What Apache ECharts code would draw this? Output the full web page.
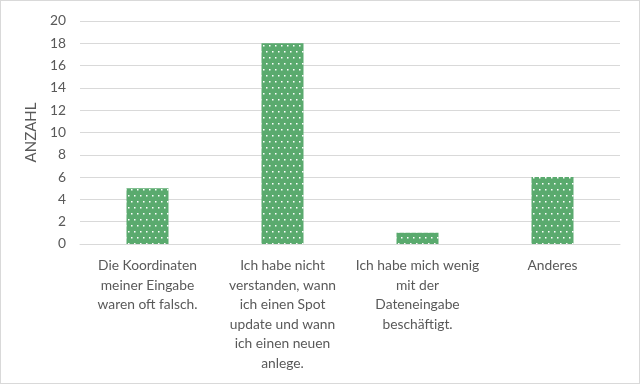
<!DOCTYPE html>
<html><head><meta charset="utf-8">
<script src="https://cdn.jsdelivr.net/npm/echarts@6/dist/echarts.min.js"></script>
<style>html,body{margin:0;padding:0;background:#fff}#c{width:640px;height:384px;box-sizing:border-box;border:1px solid #d9d9d9}</style>
</head><body><div id="c"></div>
<script>
var categories = [
  "Die Koordinaten\nmeiner Eingabe\nwaren oft falsch.",
  "Ich habe nicht\nverstanden, wann\nich einen Spot\nupdate und wann\nich einen neuen\nanlege.",
  "Ich habe mich wenig\nmit der\nDateneingabe\nbeschäftigt.",
  "Anderes"
];
var values = [5, 18, 1, 6];
var yLabel = "ANZAHL";

function makePattern() {
  var c = document.createElement('canvas');
  c.width = 6; c.height = 12;
  var ctx = c.getContext('2d');
  ctx.fillStyle = '#5aaa6e';
  ctx.fillRect(0, 0, 6, 12);
  ctx.fillStyle = '#ffffff';
  ctx.fillRect(1, 2, 1.5, 1.5);
  ctx.fillRect(4, 8, 1.5, 1.5);
  return c;
}

var chart = echarts.init(document.getElementById('c'));
var font = 'Lato, "Noto Sans", sans-serif';
chart.setOption({
  animation: false,
  grid: { left: 79, right: 19, top: 20, bottom: 139, containLabel: false },
  xAxis: {
    type: 'category',
    data: categories,
    axisLine: { show: true, lineStyle: { color: '#d9d9d9', width: 1 } },
    axisTick: { show: false },
    axisLabel: { interval: 0, color: '#595959', fontFamily: font, fontSize: 13.8, lineHeight: 19.5, margin: 12 }
  },
  yAxis: {
    type: 'value',
    min: 0, max: 20, interval: 2,
    name: yLabel,
    nameLocation: 'middle',
    nameGap: 33,
    nameTextStyle: { color: '#595959', fontFamily: font, fontSize: 15 },
    axisLine: { show: false },
    axisTick: { show: false },
    splitLine: { lineStyle: { color: '#d9d9d9', width: 1 } },
    axisLabel: { color: '#595959', fontFamily: font, fontSize: 13.8, margin: 14 }
  },
  series: [{
    type: 'bar',
    data: values,
    barWidth: 42,
    itemStyle: { color: { image: makePattern(), repeat: 'repeat' } }
  }]
});
</script></body></html>
